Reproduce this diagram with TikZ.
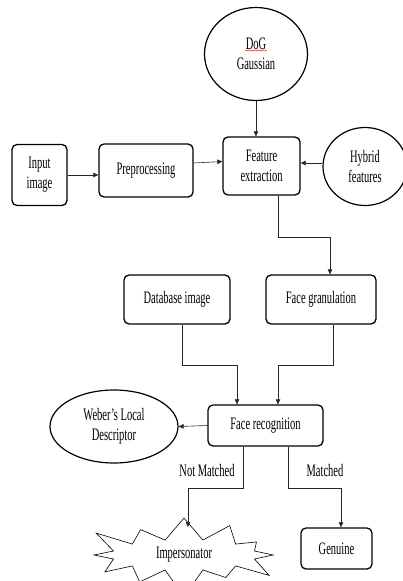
\documentclass[tikz,border=0pt]{standalone}
\usepackage{fontspec}
\setmainfont[FakeStretch=0.6]{Liberation Serif}
\usetikzlibrary{shapes.geometric,shapes.symbols,arrows.meta,decorations.pathmorphing}
\tikzset{
    box/.style={draw, line width=1.3pt, rounded corners=5pt, align=center, inner sep=2pt},
    oval/.style={draw, ellipse, line width=1.2pt, align=center, inner sep=1pt},
    arr/.style={draw=black!85, line width=0.6pt, -{Triangle[length=5pt,width=4.5pt]}},
    lbl/.style={align=center, inner sep=1pt}
}
\begin{document}
\begin{tikzpicture}[x=1pt, y=-1pt, font=\fontsize{17.5}{20}\selectfont]
    \useasboundingbox (0,0) rectangle (402,581);
    % top row
    \node[oval, minimum width=103pt, minimum height=93pt] (dog) at (256,54) {DoG\\Gaussian};
    \draw[red, line width=0.4pt, decorate, decoration={snake, amplitude=0.6pt, segment length=2.5pt}] (245,50.5) -- (267,50.5);
    \node[box, minimum width=77pt, minimum height=58pt] (feat) at (261.5,166) {Feature\\extraction};
    \node[box, minimum width=55pt, minimum height=61pt] (input) at (39.5,175) {Input\\image};
    \node[box, minimum width=94pt, minimum height=53pt] (prep) at (146,170.5) {Preprocessing};
    \node[oval, minimum width=84pt, minimum height=78pt] (hybrid) at (365,166.5) {Hybrid\\features};
    % middle row
    \node[box, minimum width=106pt, minimum height=49pt] (db) at (177,299.5) {Database image};
    \node[box, minimum width=110pt, minimum height=49pt] (gran) at (321,299.5) {Face granulation};
    \node[box, minimum width=115pt, minimum height=41pt] (rec) at (265.5,425.5) {Face recognition};
    \node[oval, minimum width=128pt, minimum height=73pt] (weber) at (114,426.5) {Weber's Local\\Descriptor};
    % outcomes
    \node[draw, starburst, starburst points=12, starburst point height=30pt, line width=0.6pt, minimum width=206pt, minimum height=90pt] (imp) at (184,555) {Impersonator};
    \node[box, minimum width=71pt, minimum height=41pt] (gen) at (336.5,548.5) {Genuine};
    \coordinate (impTop) at (188,527);
    \node[lbl] (notm) at (207,471) {Not Matched};
    \node[lbl] (mat) at (325,471) {Matched};
    % connectors
    \draw[arr] (input.east) -- (input.east -| prep.west);
    \draw[arr] ([yshift=7.5pt]prep.east) -- ([yshift=4.5pt]feat.west);
    \draw[arr] ([yshift=3.5pt]hybrid.west) -- ([yshift=3pt]feat.east);
    \draw[arr] (dog.south) -- (dog.south |- feat.north);
    \draw[arr] ([xshift=16.5pt]feat.south) -- ++(0,42) -| ([xshift=9pt]gran.north);
    \draw[arr] ([xshift=5pt]db.south) -- ++(0,41) -| ([xshift=-28.5pt]rec.north);
    \draw[arr] ([xshift=12pt]gran.south) -- ++(0,41) -| ([xshift=12.5pt]rec.north);
    \draw[arr] (rec.west) -- (weber.east);
    \draw[arr] ([xshift=-22.5pt]rec.south) -- ++(0,42) -| (impTop);
    \draw[arr] ([xshift=22.5pt]rec.south) -- ++(0,42) -| ([xshift=4.5pt]gen.north);
\end{tikzpicture}
\end{document}
